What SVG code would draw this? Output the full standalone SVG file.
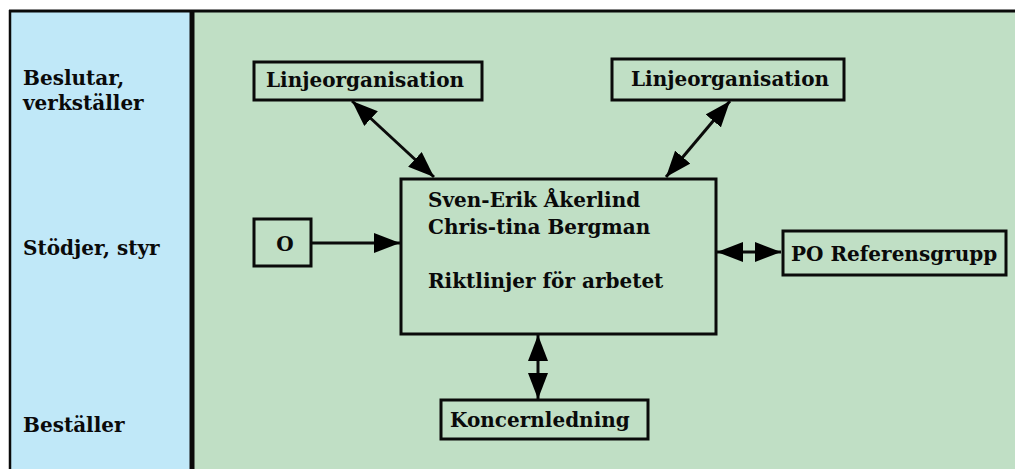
<svg xmlns="http://www.w3.org/2000/svg" width="1015" height="469" viewBox="0 0 1015 469">
<style>
text{font-family:"DejaVu Serif","Liberation Serif",serif;font-size:20px;font-weight:bold;fill:#0a0a0a}
.box{fill:#C0DFC5;stroke:#0a0a0a;stroke-width:3}
.conn line{stroke:#0a0a0a;stroke-width:3}
</style>
<defs>
<marker id="ah" viewBox="0 0 26 20" refX="26" refY="10" markerWidth="26" markerHeight="20" markerUnits="userSpaceOnUse" orient="auto-start-reverse">
<path d="M0,0 L26,10 L0,20 z" fill="#000"/>
</marker>
</defs>
<g id="background">
<rect x="9" y="11" width="183" height="470" fill="#C0E8F8"/>
<rect x="192" y="11" width="830" height="470" fill="#C0DFC5"/>
<line x1="9" y1="11" x2="1015" y2="11" stroke="#0a0a0a" stroke-width="3"/>
<line x1="10" y1="10" x2="10" y2="469" stroke="#0a0a0a" stroke-width="2.5"/>
<line x1="192" y1="10" x2="192" y2="469" stroke="#0a0a0a" stroke-width="5"/>
</g>
<g id="labels">
<text x="23" y="85">Beslutar,</text>
<text x="23" y="110">verkställer</text>
<text x="23" y="255">Stödjer, styr</text>
<text x="23" y="432">Beställer</text>
</g>
<g id="connectors" class="conn">
<line x1="352" y1="101" x2="434" y2="177" marker-start="url(#ah)" marker-end="url(#ah)"/>
<line x1="730" y1="101" x2="666" y2="177" marker-start="url(#ah)" marker-end="url(#ah)"/>
<line x1="312" y1="243" x2="400" y2="243" marker-end="url(#ah)"/>
<line x1="717" y1="252" x2="781" y2="252" marker-start="url(#ah)" marker-end="url(#ah)"/>
<line x1="538" y1="335" x2="538" y2="399" marker-start="url(#ah)" marker-end="url(#ah)"/>
</g>
<g id="node-linje1">
<rect class="box" x="254" y="62" width="228" height="38"/>
<text x="266" y="87">Linjeorganisation</text>
</g>
<g id="node-linje2">
<rect class="box" x="612" y="59" width="232" height="41"/>
<text x="631" y="86">Linjeorganisation</text>
</g>
<g id="node-o">
<rect class="box" x="254" y="219" width="57" height="47"/>
<text x="285" y="251" text-anchor="middle">O</text>
</g>
<g id="node-main">
<rect class="box" x="401" y="179" width="315" height="155"/>
<text x="428" y="207">Sven-Erik Åkerlind</text>
<text x="428" y="234">Chris-tina Bergman</text>
<text x="428" y="288">Riktlinjer för arbetet</text>
</g>
<g id="node-po">
<rect class="box" x="783" y="231" width="223" height="44"/>
<text x="791" y="261">PO Referensgrupp</text>
</g>
<g id="node-koncern">
<rect class="box" x="441" y="400" width="207" height="39"/>
<text x="450" y="427">Koncernledning</text>
</g>
</svg>
